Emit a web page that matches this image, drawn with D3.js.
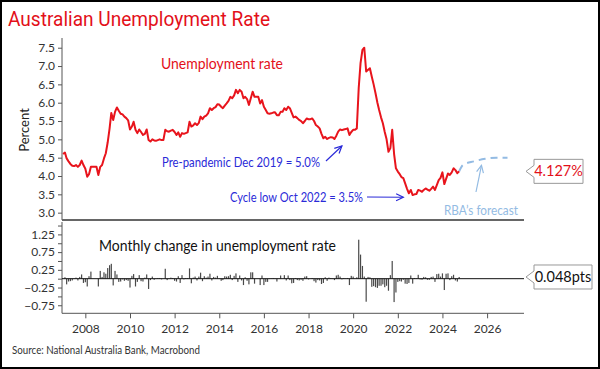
<!DOCTYPE html>
<html><head><meta charset="utf-8">
<script src="https://cdn.jsdelivr.net/npm/d3@7"></script>
<style>body{margin:0;background:#fff}svg{display:block}text{font-family:Lato,"Open Sans",sans-serif}</style>
</head><body><svg id="c" width="600" height="369"></svg>
<script>
// ---- data (monthly, seasonally adjusted, from Jan 2007) ----
const firstMonth = [2007, 0];
const rate = [
  4.6,4.64,4.48,4.4,4.33,4.28,4.27,4.3,4.25,4.3,4.42,4.3,          // 2007
  4.2,3.98,4.05,4.25,4.25,4.25,4.25,4.03,4.25,4.3,4.48,4.62,      // 2008
  4.92,5.3,5.72,5.53,5.75,5.87,5.78,5.7,5.68,5.62,5.58,5.52,      // 2009
  5.27,5.35,5.48,5.26,5.17,5.27,5.2,5.12,5.15,5.27,4.98,4.94,     // 2010
  5.0,4.97,4.96,4.98,5.0,4.98,4.98,5.26,5.22,5.21,5.24,5.26,      // 2011
  5.2,5.12,5.19,5.07,5.17,5.15,5.17,5.19,5.48,5.35,5.38,5.44,     // 2012
  5.39,5.45,5.62,5.55,5.62,5.65,5.71,5.85,5.8,5.85,5.88,5.96,     // 2013
  5.95,5.89,5.85,5.92,5.98,6.05,6.16,6.12,6.2,6.35,6.26,6.35,     // 2014
  6.3,6.12,6.16,6.1,5.94,6.12,6.3,6.16,6.16,6.16,5.98,6.07,       // 2015
  5.89,5.8,5.71,5.7,5.71,5.73,5.74,5.66,5.66,5.75,5.75,5.85,      // 2016
  5.8,5.89,5.85,5.72,5.6,5.62,5.58,5.53,5.5,5.44,5.5,5.57,        // 2017
  5.55,5.55,5.57,5.5,5.39,5.35,5.3,5.15,5.03,5.07,5.01,5.04,      // 2018
  5.06,5.05,5.01,5.1,5.21,5.27,5.25,5.27,5.28,5.3,5.12,5.2,       // 2019
  5.26,5.26,5.3,6.4,7.08,7.44,7.5,6.85,6.9,6.94,6.71,6.5,         // 2020
  6.26,6.0,5.8,5.6,5.44,5.2,5.0,4.66,4.76,5.26,4.6,4.21,          // 2021
  4.12,4.05,3.97,3.94,3.8,3.65,3.53,3.62,3.48,3.5,3.51,3.62,      // 2022
  3.6,3.57,3.62,3.66,3.63,3.6,3.65,3.71,3.62,3.75,3.89,3.95,      // 2023
  4.1,3.78,3.92,4.07,4.03,4.1,4.21,4.16,4.079,4.127               // 2024
];
const forecastMonths = ["2024-10","2024-12","2025-06","2025-12","2026-06","2026-12"];
const forecastValues = [4.127,4.3,4.4,4.47,4.5,4.5];
const xTickYears = [2008,2010,2012,2014,2016,2018,2020,2022,2024,2026];
const topTicks = [3.0,3.5,4.0,4.5,5.0,5.5,6.0,6.5,7.0,7.5];
const botLabelTicks = [1.25,0.75,0.25,-0.25,-0.75];
const botMinorTicks = [1.5,1.25,1.0,0.75,0.5,0.25,0,-0.25,-0.5,-0.75];
const latestRateLabel = "4.127%";
const latestChange = 0.048;
const latestChangeLabel = "0.048pts";

// ---- setup ----
const svg = d3.select("#c");
const W = 600, H = 369;
const parseM = d3.timeParse("%Y-%m");
const dates = rate.map((d,i)=>d3.timeMonth.offset(new Date(firstMonth[0], firstMonth[1], 1), i));
const changes = rate.slice(1).map((v,i)=>({date:dates[i+1], v:v-rate[i]}));

const x = d3.scaleTime().domain([new Date(2006,11,15), new Date(2027,7,28)]).range([62,524]);
const yT = d3.scaleLinear().domain([2.8,7.765]).range([220,38]);
const yB = d3.scaleLinear().domain([-0.977,1.6]).range([313.3,222]);

svg.append("rect").attr("x",1).attr("y",1).attr("width",W-2).attr("height",H-2)
  .attr("fill","#fff").attr("stroke","#000").attr("stroke-width",2);

// title
svg.append("text").attr("x",8).attr("y",26).text("Australian Unemployment Rate")
  .style("font-family","Roboto").attr("font-size",19.5).attr("textLength",262).attr("lengthAdjust","spacingAndGlyphs").attr("fill","#e3101a");

// ---- top panel ----
const gT = svg.append("g");
const axT = d3.axisLeft(yT).tickValues(topTicks).tickFormat(d3.format(".1f")).tickSize(4).tickPadding(3);
gT.append("g").attr("transform","translate(62,0)").call(axT).call(g=>{
  g.select(".domain").attr("stroke","#555").attr("d","M0,38V220");
  g.selectAll(".tick line").attr("stroke","#555");
  g.selectAll("text").attr("fill","#333").attr("font-size",12).style("font-family","Lato");
});
gT.append("line").attr("x1",62).attr("x2",524).attr("y1",220).attr("y2",220).attr("stroke","#666").attr("stroke-width",1.8);
svg.append("text").attr("transform",`translate(29,130) rotate(-90)`)
  .attr("text-anchor","middle").attr("font-size",13).attr("fill","#222").text("Percent");

// forecast
gT.append("path").datum(forecastMonths.map((m,i)=>[parseM(m),forecastValues[i]]))
  .attr("d",d3.line().x(d=>x(d[0])).y(d=>yT(d[1])).curve(d3.curveMonotoneX))
  .attr("fill","none").attr("stroke","#93bbe3").attr("stroke-width",2).attr("stroke-dasharray","7,5");
// line
gT.append("path").datum(rate.map((v,i)=>[dates[i],v]))
  .attr("d",d3.line().x(d=>x(d[0])).y(d=>yT(d[1])))
  .attr("fill","none").attr("stroke","#e8141c").attr("stroke-width",2).attr("stroke-linejoin","round");

svg.append("text").attr("x",161).attr("y",69).attr("font-size",14.5).attr("textLength",122).attr("lengthAdjust","spacingAndGlyphs").attr("fill","#e3101a").text("Unemployment rate");

// annotations
const blue = "#2a2ad8";
function arrow(x1,y1,x2,y2,col){
  svg.append("line").attr("x1",x1).attr("y1",y1).attr("x2",x2).attr("y2",y2).attr("stroke",col).attr("stroke-width",1.2);
  const a = Math.atan2(y2-y1,x2-x1), L=8, s=0.45;
  const p1=[x2-L*Math.cos(a-s), y2-L*Math.sin(a-s)], p2=[x2-L*Math.cos(a+s), y2-L*Math.sin(a+s)];
  svg.append("path").attr("d",`M${p1}L${x2},${y2}L${p2}`).attr("fill","none").attr("stroke",col).attr("stroke-width",1.2);
}
svg.append("text").attr("x",162).attr("y",167).attr("font-size",12.5).attr("textLength",158).attr("lengthAdjust","spacingAndGlyphs").attr("fill",blue).text("Pre-pandemic Dec 2019 = 5.0%");
arrow(326,161,x(parseM("2019-07")),yT(4.82),blue);
svg.append("text").attr("x",230).attr("y",202).attr("font-size",12.5).attr("textLength",133).attr("lengthAdjust","spacingAndGlyphs").attr("fill",blue).text("Cycle low Oct 2022 = 3.5%");
arrow(367,197,x(parseM("2022-04")),yT(3.42),blue);
svg.append("text").attr("x",444).attr("y",215).attr("font-size",12.5).attr("textLength",74).attr("lengthAdjust","spacingAndGlyphs").attr("fill","#93bbe3").text("RBA\u2019s forecast");
arrow(476,192,x(parseM("2025-10")),yT(4.29),"#93bbe3");

// ---- bottom panel ----
const gB = svg.append("g");
gB.append("g").attr("transform","translate(62,0)")
  .call(d3.axisLeft(yB).tickValues(botMinorTicks).tickFormat(d=>botLabelTicks.includes(d)?d3.format(".2f")(d):"").tickSize(4).tickPadding(3))
  .call(g=>{
    g.select(".domain").attr("stroke","#555").attr("d","M0,222V313.3");
    g.selectAll(".tick line").attr("stroke","#555");
    g.selectAll("text").attr("fill","#333").attr("font-size",12).style("font-family","Lato");
  });
gB.append("g").attr("transform","translate(0,313.3)")
  .call(d3.axisBottom(x).tickValues(xTickYears.map(y=>new Date(y,0,1))).tickFormat(d3.timeFormat("%Y")).tickSize(5).tickPadding(6))
  .call(g=>{
    g.select(".domain").attr("stroke","#555").attr("d","M62,0H524");
    g.selectAll(".tick line").attr("stroke","#555");
    g.selectAll("text").attr("fill","#333").attr("font-size",12).style("font-family","Lato");
  });
gB.selectAll("rect.bar").data(changes).join("rect").attr("class","bar")
  .attr("x",d=>x(d.date)-0.6).attr("width",1.2)
  .attr("y",d=>Math.min(yB(0),yB(d.v))).attr("height",d=>Math.abs(yB(d.v)-yB(0)))
  .attr("fill","#4a4a4a");
gB.append("line").attr("x1",62).attr("x2",524).attr("y1",yB(0)).attr("y2",yB(0)).attr("stroke","#111").attr("stroke-width",1);
svg.append("text").attr("x",99).attr("y",251).attr("font-size",14.5).attr("textLength",237).attr("lengthAdjust","spacingAndGlyphs").attr("fill","#111").text("Monthly change in unemployment rate");

svg.append("clipPath").attr("id","clipP").append("rect").attr("x",0).attr("y",224).attr("width",60).attr("height",100);
svg.append("text").attr("clip-path","url(#clipP)").attr("transform","translate(22,312) rotate(-90)")
  .attr("font-size",13).attr("fill","#222").text("Percentage points");

// ---- value boxes ----
function valueBox(yv,label,col,w){
  const bx=534, bh=24, by=yv-bh/2;
  svg.append("path").attr("d",`M${bx},${by}H${bx+w}V${by+bh}H${bx}V${yv+6}L${bx-8},${yv}L${bx},${yv-6}Z`)
    .attr("fill","#fff").attr("stroke","#999").attr("stroke-width",1);
  svg.append("text").attr("x",bx+w/2).attr("y",yv+5).attr("text-anchor","middle").attr("font-size",14.5).attr("fill",col).text(label);
}
valueBox(yT(rate[rate.length-1]),latestRateLabel,"#e3101a",49);
valueBox(yB(latestChange),latestChangeLabel,"#111",58);

svg.append("text").attr("x",12).attr("y",354).attr("font-size",10.5).attr("textLength",188).attr("lengthAdjust","spacingAndGlyphs").attr("fill","#333").text("Source: National Australia Bank, Macrobond");
</script></body></html>
